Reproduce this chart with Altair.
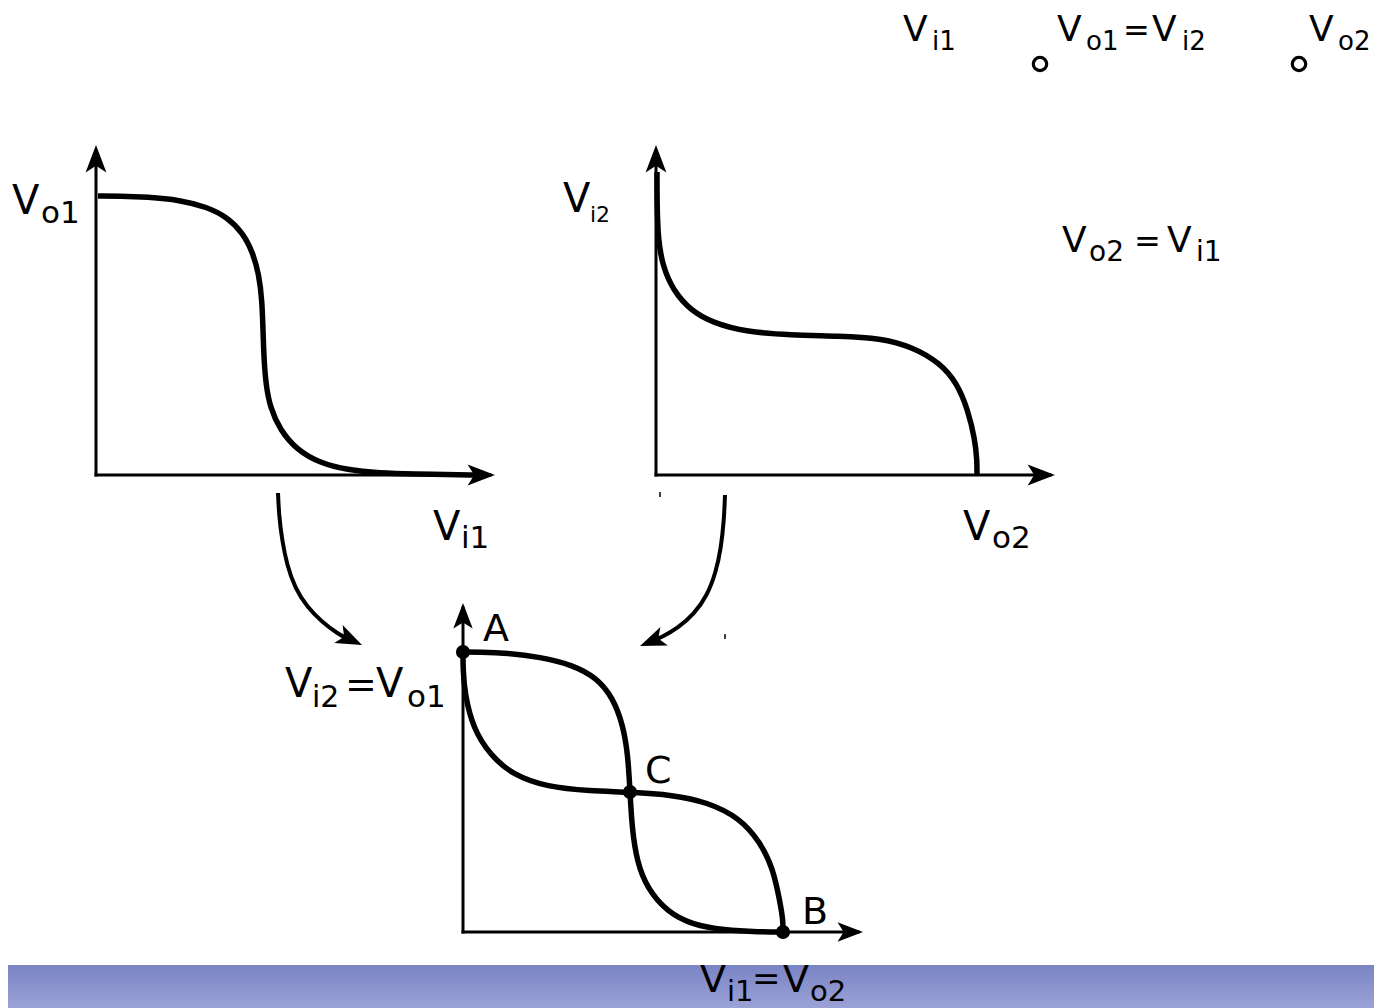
import altair as alt
import pandas as pd

# The picture frame (pixel-like units of the drawing)
X_DOMAIN = [8, 1374]
Y_DOMAIN = [8, 1008]

# ---- transfer curves -------------------------------------------------------
c1_x = [98, 120, 147, 180, 207, 227, 243, 253, 259, 262, 263, 264, 266, 270, 280, 297, 320, 347, 380, 413, 463, 485]
c1_y = [196, 196, 197, 200, 207, 217, 233, 253, 275, 300, 330, 360, 385, 407, 430, 450, 463, 470, 473, 474, 475, 475]

c2_x = [657, 657, 658, 663, 673, 690, 713, 747, 790, 840, 880, 913, 940, 957, 968, 975, 977, 977]
c2_y = [172, 200, 240, 267, 290, 310, 323, 332, 335, 336, 338, 347, 363, 383, 410, 440, 460, 475]

c3_x = [463, 480, 507, 540, 573, 597, 613, 623, 628, 630, 632, 637, 647, 667, 693, 723, 760, 783]
c3_y = [652, 652, 653, 657, 665, 678, 698, 725, 755, 792, 828, 862, 888, 912, 925, 930, 932, 932]

c4_x = [463, 463, 465, 473, 490, 513, 547, 590, 630, 673, 707, 740, 760, 773, 780, 783, 783]
c4_y = [652, 670, 695, 728, 755, 775, 787, 791, 792, 795, 802, 818, 842, 868, 902, 920, 932]

# ---- curved arrows ---------------------------------------------------------
a1_x = [278, 279, 282, 287, 295, 307, 322, 338, 350]
a1_y = [493, 515, 540, 565, 588, 607, 622, 634, 640]
a2_x = [725, 724, 721, 716, 707, 694, 678, 662, 652]
a2_y = [495, 520, 548, 572, 596, 614, 628, 637, 641]

# ---- axes (start x, start y, end x, end y) ---------------------------------
ax_x = [96, 96, 656, 656, 463, 463]
ax_y = [475, 475, 475, 475, 932, 932]
ax_x2 = [96, 490, 656, 1050, 463, 858]
ax_y2 = [152, 475, 152, 475, 608, 932]

# arrow heads: tip x, tip y, direction (deg, clockwise from up), size
head_x = [96, 495, 656, 1055, 463, 863, 362, 640]
head_y = [145, 475, 145, 475, 603, 932, 645, 646]
head_a = [0, 90, 0, 90, 0, 90, 115, 248]
head_s = [3000, 3000, 3000, 3000, 2600, 2600, 2700, 2700]

# operating points A, C, B
pt_x = [463, 630, 783]
pt_y = [652, 792, 932]

# open terminals
term_x = [1040, 1299]
term_y = [64, 64]

# small tick marks
tick_x = [660, 725]
tick_y = [492, 634]
tick_y2 = [497, 639]

# ---- text ------------------------------------------------------------------
txt = ["V", "i1", "V", "o1", "=", "V", "i2", "V", "o2",
       "V", "o1", "V", "i1",
       "V", "i2", "V", "o2",
       "V", "o2", "=", "V", "i1",
       "V", "i2", "=", "V", "o1",
       "A", "C", "B",
       "V", "i1", "=", "V", "o2"]
txt_x = [903, 932, 1057, 1086, 1123, 1152, 1182, 1309, 1338,
         12, 41, 433, 461,
         563, 590, 963, 992,
         1062, 1089, 1134, 1167, 1196,
         285, 312, 345, 376, 407,
         483, 645, 802,
         700, 727, 752, 783, 810]
txt_y = [41, 50, 41, 50, 41, 41, 50, 41, 50,
         214, 223, 540, 548,
         212, 222, 540, 548,
         252, 261, 252, 252, 261,
         697, 707, 697, 697, 707,
         641, 783, 924,
         992, 1001, 990, 992, 1001]
txt_s = [36, 26, 36, 26, 32, 36, 26, 36, 26,
         40, 31, 40, 31,
         40, 22, 40, 31,
         36, 28, 32, 36, 28,
         40, 30, 38, 40, 31,
         38, 38, 38,
         38, 29, 34, 38, 29]

# ---- build tables ----------------------------------------------------------
def path_df(name, xs, ys):
    return pd.DataFrame({"name": name, "i": range(len(xs)), "x": xs, "y": ys})

curves = pd.concat([path_df("c1", c1_x, c1_y), path_df("c2", c2_x, c2_y),
                    path_df("c3", c3_x, c3_y), path_df("c4", c4_x, c4_y)])
arrows = pd.concat([path_df("a1", a1_x, a1_y), path_df("a2", a2_x, a2_y)])
axes = pd.DataFrame({"x": ax_x, "y": ax_y, "x2": ax_x2, "y2": ax_y2})
heads = pd.DataFrame({"x": head_x, "y": head_y, "a": head_a, "s": head_s})
points = pd.DataFrame({"x": pt_x, "y": pt_y})
terms = pd.DataFrame({"x": term_x, "y": term_y})
ticks = pd.DataFrame({"x": tick_x, "y": tick_y, "y2": tick_y2})
texts = pd.DataFrame({"t": txt, "x": txt_x, "y": txt_y, "s": txt_s})
band = pd.DataFrame({"x": [0], "x2": [1382], "y": [965], "y2": [1008]})

xs = alt.Scale(domain=X_DOMAIN, nice=False, zero=False)
ys = alt.Scale(domain=Y_DOMAIN, nice=False, zero=False, reverse=True)
X = alt.X("x:Q", scale=xs, axis=None)
Y = alt.Y("y:Q", scale=ys, axis=None)

ARROW = "M0,0L0.38,1L0,0.76L-0.38,1Z"

gradient = alt.LinearGradient(
    gradient="linear",
    stops=[alt.GradientStop(color="#7b84c4", offset=0),
           alt.GradientStop(color="#9ba2d6", offset=1)],
    x1=0, x2=0, y1=0, y2=1)

band_l = alt.Chart(band).mark_rect(fill=gradient, clip=True).encode(
    x=X, x2="x2:Q", y=Y, y2="y2:Q")

axes_l = alt.Chart(axes).mark_rule(color="black", strokeWidth=3, strokeCap="square").encode(
    x=X, y=Y, x2="x2:Q", y2="y2:Q")

curves_l = alt.Chart(curves).mark_line(color="black", strokeWidth=5.5, interpolate="basis",
                                       strokeCap="butt").encode(
    x=X, y=Y, detail="name:N", order="i:Q")

arrows_l = alt.Chart(arrows).mark_line(color="black", strokeWidth=4, interpolate="basis").encode(
    x=X, y=Y, detail="name:N", order="i:Q")

heads_l = alt.Chart(heads).mark_point(shape=ARROW, filled=True, color="black", opacity=1,
                                      strokeWidth=0).encode(
    x=X, y=Y, angle=alt.Angle("a:Q", scale=None), size=alt.Size("s:Q", scale=None))

points_l = alt.Chart(points).mark_circle(color="black", opacity=1, size=200).encode(x=X, y=Y)

terms_l = alt.Chart(terms).mark_point(shape="circle", filled=False, color="black", opacity=1,
                                      strokeWidth=3.2, size=180).encode(x=X, y=Y)

ticks_l = alt.Chart(ticks).mark_rule(color="black", strokeWidth=1.5).encode(x=X, y=Y, y2="y2:Q")

texts_l = alt.Chart(texts).mark_text(align="left", baseline="alphabetic", font="DejaVu Sans",
                                     color="black").encode(
    x=X, y=Y, text="t:N", size=alt.Size("s:Q", scale=None))

chart = alt.layer(band_l, axes_l, curves_l, arrows_l, heads_l, points_l, terms_l, ticks_l,
                  texts_l).properties(
    width=1366, height=1000, padding=0, autosize=alt.AutoSizeParams(type="none"),
    background="white",
).configure_view(stroke=None)

chart.save("out.html", embed_options={"renderer": "svg", "actions": False})
